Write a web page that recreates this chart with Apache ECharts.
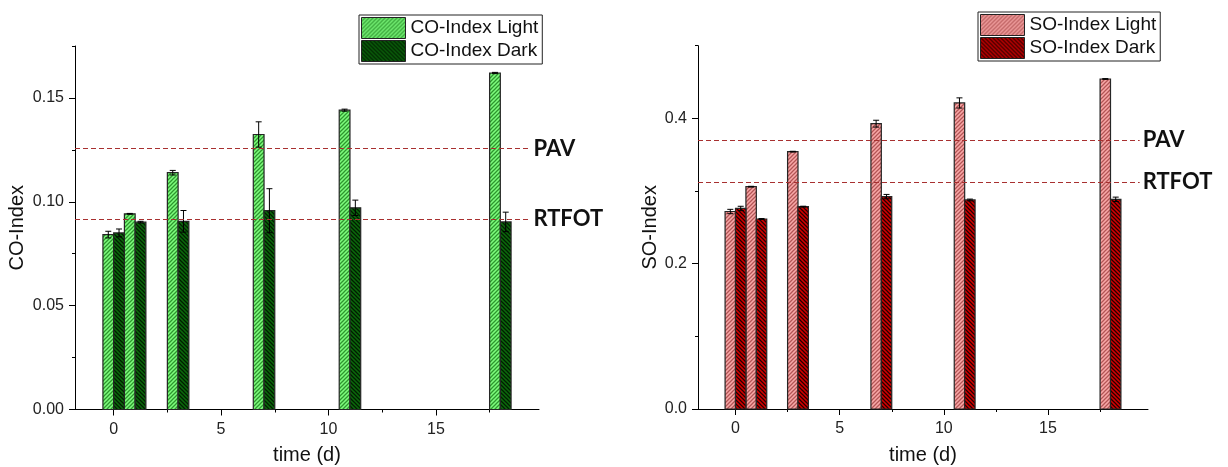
<!DOCTYPE html>
<html><head><meta charset="utf-8">
<script src="https://cdn.jsdelivr.net/npm/echarts@6/dist/echarts.min.js"></script>
<style>html,body{margin:0;padding:0;background:#fff}#c{width:1228px;height:467px}</style>
</head><body><div id="c"></div>
<script>
// ---------- data ----------
const days = [0, 1, 3, 7, 11, 18];
const coLight = [0.0842, 0.0942, 0.1140, 0.1324, 0.1441, 0.1620];
const coLightErr = [0.0016, 0.0002, 0.0011, 0.0061, 0.0005, 0.0003];
const coDark = [0.0850, 0.0902, 0.0906, 0.0957, 0.0971, 0.0903];
const coDarkErr = [0.0019, 0.0004, 0.0052, 0.0106, 0.0037, 0.0047];
const soLight = [0.2718, 0.3060, 0.3542, 0.3927, 0.4212, 0.4542];
const soLightErr = [0.003, 0.0005, 0.0005, 0.0047, 0.007, 0.0005];
const soDark = [0.2760, 0.2615, 0.2785, 0.2923, 0.2877, 0.2886];
const soDarkErr = [0.003, 0.0006, 0.0006, 0.003, 0.0012, 0.003];
const refNames = ['PAV', 'RTFOT'];
const coRefs = [0.1256, 0.0916];
const soRefs = [0.370, 0.3125];
const xMajorTicks = [0, 5, 10, 15];
const xMinorTicks = [2.5, 7.5, 12.5, 17.5];
const coMajorTicks = [0, 0.05, 0.10, 0.15];
const coMinorTicks = [0.025, 0.075, 0.125, 0.175];
const soMajorTicks = [0, 0.2, 0.4];
const soMinorTicks = [0.1, 0.3, 0.5];
const coNames = ['CO-Index Light', 'CO-Index Dark'];
const soNames = ['SO-Index Light', 'SO-Index Dark'];

// ---------- styling ----------
const X_MIN = -1.8, X_MAX = 19.8, REF_END = 19.4;
const FONT = 'Liberation Sans, Arial, sans-serif';
const REF_COLOR = '#a83030';

function hatch(base, stripe, dir) {
  const s = 4, c = document.createElement('canvas');
  c.width = s; c.height = s;
  const g = c.getContext('2d');
  g.fillStyle = base; g.fillRect(0, 0, s, s);
  g.strokeStyle = stripe; g.lineWidth = 1.25;
  g.beginPath();
  if (dir > 0) {
    g.moveTo(-1, s + 1); g.lineTo(s + 1, -1);
    g.moveTo(-1, 1); g.lineTo(1, -1);
    g.moveTo(s - 1, s + 1); g.lineTo(s + 1, s - 1);
  } else {
    g.moveTo(-1, -1); g.lineTo(s + 1, s + 1);
    g.moveTo(s - 1, -1); g.lineTo(s + 1, 1);
    g.moveTo(-1, s - 1); g.lineTo(1, s + 1);
  }
  g.stroke();
  return { image: c, repeat: 'repeat' };
}
const fills = {
  coLight: hatch('#7efc7e', '#2e962e', 1),
  coDark: hatch('#0c680c', '#011e01', -1),
  soLight: hatch('#f8a8a8', '#b35555', 1),
  soDark: hatch('#d60000', '#240000', -1)
};

function barSeries(name, gi, vals, errs, side, fill) {
  return {
    type: 'custom', name: name, xAxisIndex: gi, yAxisIndex: gi,
    data: days.map((d, i) => [d, vals[i], errs[i]]),
    encode: { x: 0, y: 1 },
    itemStyle: { color: fill, borderColor: '#222', borderWidth: 1 },
    renderItem: function (params, api) {
      const d = api.value(0), v = api.value(1), e = api.value(2);
      const x0 = side < 0 ? d - 0.5 : d, x1 = side < 0 ? d : d + 0.5;
      const pTop = api.coord([x0, v]);
      const pBot = api.coord([x1, 0]);
      const cx = (pTop[0] + pBot[0]) / 2;
      const hi = api.coord([d, v + e])[1];
      const lo = api.coord([d, v - e])[1];
      const cap = 3;
      return {
        type: 'group', children: [
          { type: 'rect', shape: { x: pTop[0], y: pTop[1], width: pBot[0] - pTop[0], height: pBot[1] - pTop[1] },
            style: { fill: fill, stroke: '#262626', lineWidth: 1.2 } },
          { type: 'line', shape: { x1: cx, y1: lo, x2: cx, y2: hi }, style: { stroke: '#000', lineWidth: 1 } },
          { type: 'line', shape: { x1: cx - cap, y1: hi, x2: cx + cap, y2: hi }, style: { stroke: '#000', lineWidth: 1 } },
          { type: 'line', shape: { x1: cx - cap, y1: lo, x2: cx + cap, y2: lo }, style: { stroke: '#000', lineWidth: 1 } }
        ]
      };
    }
  };
}

function refSeries(gi, refs) {
  const ls = { color: REF_COLOR, width: 1.1, type: [5, 3], opacity: 1 };
  return {
    type: 'line', xAxisIndex: gi, yAxisIndex: gi, data: [], silent: true,
    color: REF_COLOR, lineStyle: { color: REF_COLOR }, itemStyle: { color: REF_COLOR },
    markLine: {
      symbol: 'none', silent: true,
      lineStyle: ls,
      label: { show: true, position: 'end', distance: 3, fontFamily: 'Lato', fontWeight: 'bold', fontSize: 22, color: '#111' },
      data: refs.map((v, i) => [
        { coord: [X_MIN, v], lineStyle: ls },
        { coord: [REF_END, v], lineStyle: ls, label: { formatter: refNames[i] } }
      ])
    }
  };
}

const axisLine = { show: true, onZero: false, lineStyle: { color: '#000', width: 1 } };
const noLine = { show: false, onZero: false };
function xMain(gi) {
  return {
    gridIndex: gi, type: 'value', min: X_MIN, max: X_MAX, position: 'bottom',
    name: 'time (d)', nameLocation: 'middle', nameGap: 36,
    nameTextStyle: { fontFamily: FONT, fontSize: 20, color: '#111' },
    axisLine: axisLine, splitLine: { show: false },
    axisTick: { show: true, customValues: xMajorTicks, length: 6, lineStyle: { color: '#000' } },
    axisLabel: { customValues: xMajorTicks, fontFamily: FONT, fontSize: 16, color: '#222', margin: 12 }
  };
}
function xMinor(gi) {
  return {
    gridIndex: gi, type: 'value', min: X_MIN, max: X_MAX, position: 'bottom', offset: 0,
    axisLine: noLine, splitLine: { show: false }, axisLabel: { show: false },
    axisTick: { show: true, customValues: xMinorTicks, length: 3, lineStyle: { color: '#000' } }
  };
}
function yMain(gi, max, major, name, gap, dec) {
  return {
    gridIndex: gi, type: 'value', min: 0, max: max, position: 'left',
    name: name, nameLocation: 'middle', nameGap: gap,
    nameTextStyle: { fontFamily: FONT, fontSize: 20, color: '#111' },
    axisLine: axisLine, splitLine: { show: false },
    axisTick: { show: true, customValues: major, length: 6, lineStyle: { color: '#000' } },
    axisLabel: { customValues: major, fontFamily: FONT, fontSize: 16, color: '#222', margin: 11,
      formatter: v => Number(v).toFixed(dec) }
  };
}
function yMinor(gi, max, minor) {
  return {
    gridIndex: gi, type: 'value', min: 0, max: max, position: 'left', offset: 0,
    axisLine: noLine, splitLine: { show: false }, axisLabel: { show: false },
    axisTick: { show: true, customValues: minor, length: 3, lineStyle: { color: '#000' } }
  };
}
function legend(names, left, top) {
  return {
    data: names, orient: 'vertical', left: left, top: top, icon: 'rect',
    itemWidth: 44, itemHeight: 21, itemGap: 1, padding: [2, 4, 2, 2],
    borderColor: '#222', borderWidth: 1, selectedMode: false,
    itemStyle: { borderColor: '#222', borderWidth: 1 },
    textStyle: { fontFamily: FONT, fontSize: 19, color: '#111' }
  };
}

const chart = echarts.init(document.getElementById('c'), null, { renderer: 'canvas' });
chart.setOption({
  animation: false,
  backgroundColor: '#fff',
  grid: [
    { left: 75, top: 46, width: 464, height: 363.5, outerBoundsMode: 'none', containLabel: false },
    { left: 698, top: 45.7, width: 450, height: 363.3, outerBoundsMode: 'none', containLabel: false }
  ],
  xAxis: [xMain(0), xMain(1), xMinor(0), xMinor(1)],
  yAxis: [
    yMain(0, 0.175, coMajorTicks, 'CO-Index', 48, 2),
    yMain(1, 0.5, soMajorTicks, 'SO-Index', 38, 1),
    yMinor(0, 0.175, coMinorTicks),
    yMinor(1, 0.5, soMinorTicks)
  ],
  legend: [legend(coNames, 359, 15), legend(soNames, 978, 12)],
  series: [
    barSeries(coNames[0], 0, coLight, coLightErr, -1, fills.coLight),
    barSeries(coNames[1], 0, coDark, coDarkErr, 1, fills.coDark),
    barSeries(soNames[0], 1, soLight, soLightErr, -1, fills.soLight),
    barSeries(soNames[1], 1, soDark, soDarkErr, 1, fills.soDark),
    refSeries(0, coRefs),
    refSeries(1, soRefs)
  ]
});
</script></body></html>
